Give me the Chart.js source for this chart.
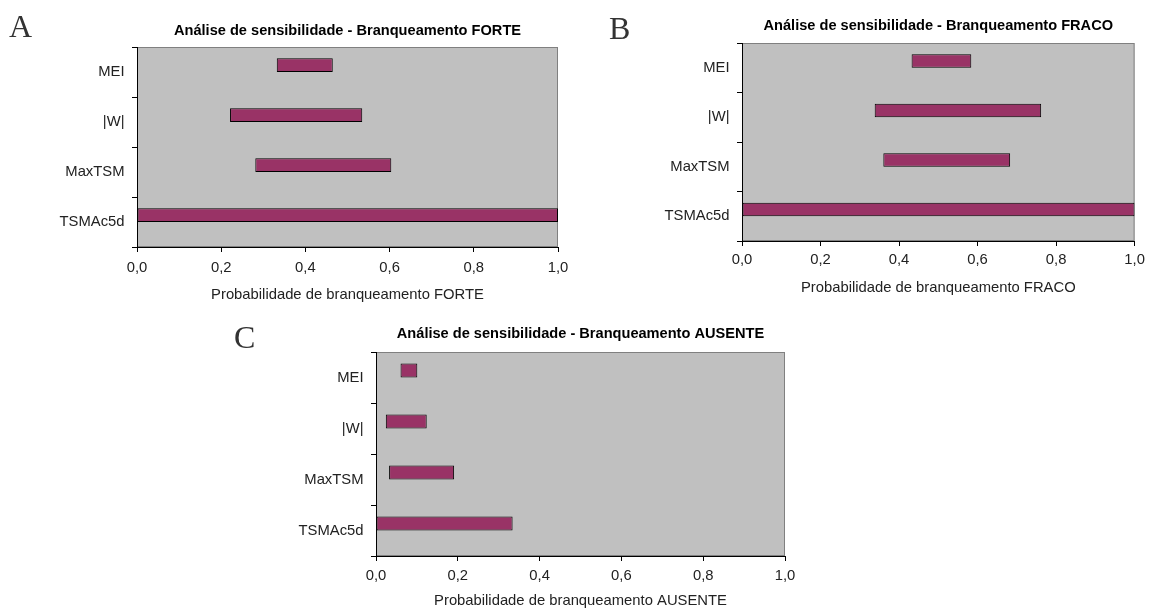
<!DOCTYPE html>
<html>
<head>
<meta charset="utf-8">
<script src="https://cdn.jsdelivr.net/npm/chart.js@4.4.1/dist/chart.umd.min.js"></script>
<style>
  body { margin: 0; background: #fff; width: 1150px; height: 610px; position: relative; overflow: hidden; }
  canvas { position: absolute; }
  .letter { position: absolute; font-family: "Liberation Serif", "Times New Roman", serif; font-size: 32px; line-height: 32px; color: #333; }
</style>
</head>
<body>
<canvas id="chartA" width="580" height="305" style="left:0;top:0"></canvas>
<canvas id="chartB" width="560" height="305" style="left:590px;top:0"></canvas>
<canvas id="chartC" width="600" height="305" style="left:220px;top:305px"></canvas>
<div class="letter" style="left:9px;top:10px">A</div>
<div class="letter" style="left:609px;top:12px">B</div>
<div class="letter" style="left:234px;top:321px">C</div>
<script>
// --- data ---
const categories = ['MEI', '|W|', 'MaxTSM', 'TSMAc5d'];

const forteLow  = [0.332, 0.221, 0.281, 0.0];
const forteHigh = [0.465, 0.535, 0.604, 1.0];

const fracoLow  = [0.432, 0.338, 0.360, 0.0];
const fracoHigh = [0.584, 0.762, 0.683, 1.0];

const ausenteLow  = [0.060, 0.024, 0.032, 0.0];
const ausenteHigh = [0.101, 0.124, 0.191, 0.334];

const xTickLabels = ['0,0', '0,2', '0,4', '0,6', '0,8', '1,0'];

const FONT = '"Liberation Sans", Arial, sans-serif';
const TXT = 14.8;     // axis text size
const TTL = 14.6;     // bold title size

// grey plot area with thin border, like the Excel original
const plotBg = {
    id: 'plotBg',
    beforeDraw(chart) {
        const { ctx, chartArea: a } = chart;
        ctx.save();
        ctx.fillStyle = '#c0c0c0';
        ctx.fillRect(a.left, a.top, a.right - a.left, a.bottom - a.top);
        ctx.strokeStyle = '#808080';
        ctx.lineWidth = 1;
        ctx.strokeRect(a.left + 0.5, a.top + 0.5, a.right - a.left - 1, a.bottom - a.top - 1);
        ctx.restore();
    }
};

function makePanel(id, low, high, title, axisTitle, g) {
    const W = g.w, H = g.h;
    const half = TXT * 0.6, halfT = TTL * 0.6;
    const xHeight = g.axisTitleY + half - g.plotBottom;
    new Chart(document.getElementById(id), {
        type: 'bar',
        data: {
            labels: categories,
            datasets: [{
                data: low.map((v, i) => [v, high[i]]),
                backgroundColor: '#993366',
                borderColor: '#000',
                borderWidth: 1,
                borderSkipped: false
            }, {
                // empty second series of the cluster (keeps bars in the upper half)
                data: [[0, 0], [0, 0], [0, 0], [0, 0]],
                backgroundColor: 'rgba(0,0,0,0)',
                borderWidth: 0
            }]
        },
        options: {
            indexAxis: 'y',
            responsive: false,
            animation: false,
            categoryPercentage: 0.55,
            barPercentage: 1.0,
            layout: { padding: { left: 0, top: 0, right: W - g.plotRight, bottom: H - g.plotBottom - xHeight } },
            plugins: {
                legend: { display: false },
                tooltip: { enabled: false },
                title: {
                    display: true,
                    text: title,
                    fullSize: false,
                    color: '#000',
                    font: { family: FONT, size: TTL, weight: 'bold' },
                    padding: { top: g.titleY - halfT, bottom: g.plotTop - g.titleY - halfT }
                }
            },
            scales: {
                y: {
                    offset: true,
                    grid: { offset: true, drawOnChartArea: false, tickLength: 5, color: '#000' },
                    border: { color: '#000' },
                    ticks: { font: { family: FONT, size: TXT }, color: '#222', padding: 7.5 },
                    afterFit(s) { s.width = g.plotLeft; }
                },
                x: {
                    type: 'linear',
                    min: 0,
                    max: 1,
                    grid: { drawOnChartArea: false, tickLength: 5, color: '#000' },
                    border: { color: '#000' },
                    ticks: {
                        stepSize: 0.2,
                        autoSkip: false,
                        maxRotation: 0,
                        font: { family: FONT, size: TXT },
                        color: '#222',
                        padding: g.tickY - g.plotBottom - 5 - half,
                        callback: (v, i) => xTickLabels[i]
                    },
                    title: {
                        display: true,
                        text: axisTitle,
                        color: '#222',
                        font: { family: FONT, size: TXT },
                        padding: 0
                    },
                    afterFit(s) { s.height = xHeight; }
                }
            }
        },
        plugins: [plotBg]
    });
}

makePanel('chartA', forteLow, forteHigh,
    'Análise de sensibilidade - Branqueamento FORTE',
    'Probabilidade de branqueamento FORTE',
    { w: 580, h: 305, plotLeft: 137, plotRight: 558, plotTop: 47, plotBottom: 247, tickY: 268, axisTitleY: 295, titleY: 31 });

makePanel('chartB', fracoLow, fracoHigh,
    'Análise de sensibilidade - Branqueamento FRACO',
    'Probabilidade de branqueamento FRACO',
    { w: 560, h: 305, plotLeft: 152, plotRight: 549, plotTop: 43, plotBottom: 241, tickY: 260, axisTitleY: 288, titleY: 26 });

makePanel('chartC', ausenteLow, ausenteHigh,
    'Análise de sensibilidade - Branqueamento AUSENTE',
    'Probabilidade de branqueamento AUSENTE',
    { w: 600, h: 305, plotLeft: 156, plotRight: 565, plotTop: 47, plotBottom: 251, tickY: 271, axisTitleY: 296, titleY: 29 });
</script>
</body>
</html>
